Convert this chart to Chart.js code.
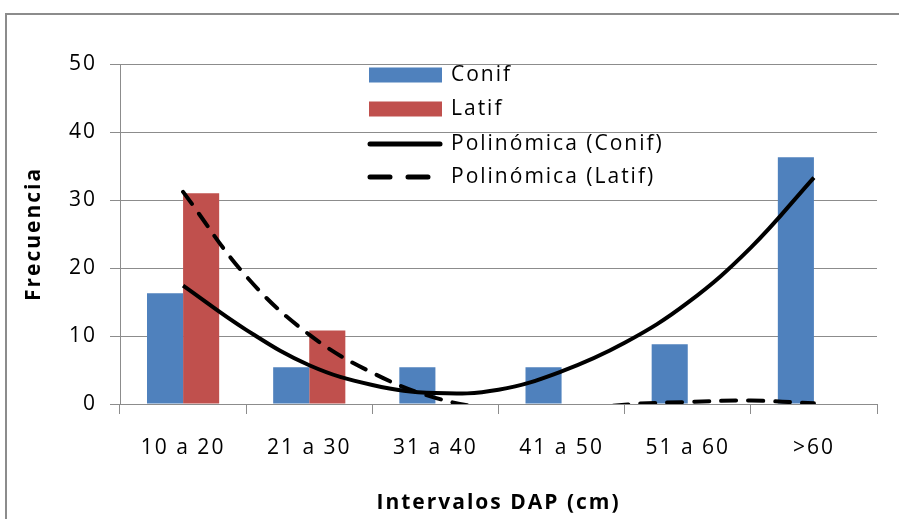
<!DOCTYPE html>
<html lang="es">
<head>
  <meta charset="UTF-8">
  <title>Frecuencia por intervalos DAP</title>
  <script src="https://cdn.jsdelivr.net/npm/chart.js"></script>
  <style>
    body { margin: 0; background: #fff; overflow: hidden; }
    .frame { position: absolute; left: 5px; top: 13px; width: 1000px; height: 1000px; border: 2px solid #8c8c8c; }
    #myCanvas { position: absolute; left: 0; top: 0; }
  </style>
</head>
<body>
  <div class="frame"></div>
  <canvas id="myCanvas" width="899" height="519"></canvas>
  <script>
    const categories = ["10 a 20", "21 a 30", "31 a 40", "41 a 50", "51 a 60", ">60"];
    const conif = [16.3, 5.4, 5.4, 5.4, 8.8, 36.3];
    const latif = [31.0, 10.8, 0, 0, 0, 0];

    // trend curves at every half category
    // (position is the category index, 0 = "10 a 20")
    const trendPos = [0, 0.5, 1, 1.5, 2, 2.5, 3, 3.5, 4, 4.5, 5];
    const conifTrend = [17.4, 10.9, 5.7, 2.8, 1.6, 2.1, 4.8, 9.0, 14.9, 23.0, 33.3];
    const latifTrend = [31.2, 18.8, 10.2, 4.6, 0.9, -0.8, -1.2, -0.1, 0.3, 0.5, 0.1];

    const yTicks = [0, 10, 20, 30, 40, 50];

    const FONT = "'Open Sans', sans-serif";
    const GRID = "#8c8c8c";

    // already in the scale's own format, so the half steps are not rounded
    function pts(xs, ys) {
      return xs.map((x, i) => ({ x: x, y: ys[i] }));
    }

    // the original text is wide, so space the letters a little
    const spacing = {
      id: "spacing",
      beforeDraw(chart) { chart.ctx.letterSpacing = "2px"; }
    };

    // legend drawn inside the plot, like the original
    const legendBox = {
      id: "legendBox",
      afterDraw(chart) {
        const ctx = chart.ctx;
        const rows = [75, 109, 144, 177];
        const ds = chart.data.datasets;
        ctx.save();
        ctx.font = "21px " + FONT;
        ctx.textBaseline = "middle";
        ds.forEach((d, i) => {
          const y = rows[i];
          if (d.type === "line") {
            ctx.strokeStyle = "#000";
            ctx.lineWidth = 5;
            ctx.lineCap = "round";
            ctx.setLineDash(d.borderDash ? [20, 18] : []);
            ctx.beginPath();
            ctx.moveTo(370, y);
            ctx.lineTo(440, y);
            ctx.stroke();
            ctx.setLineDash([]);
          } else {
            ctx.fillStyle = d.backgroundColor;
            ctx.fillRect(369, y - 7.5, 73, 15);
          }
          ctx.fillStyle = "#000";
          ctx.fillText(d.label, 451, y);
        });
        ctx.restore();
      }
    };

    new Chart(document.getElementById("myCanvas"), {
      type: "bar",
      data: {
        labels: categories,
        datasets: [
          { label: "Conif", data: conif, backgroundColor: "#4F81BD", order: 1 },
          { label: "Latif", data: latif, backgroundColor: "#C0504D", order: 1 },
          {
            type: "line", label: "Polinómica (Conif)", data: pts(trendPos, conifTrend),
            parsing: false, borderColor: "#000", borderWidth: 4, pointRadius: 0,
            tension: 0.4, clip: 0, order: 0
          },
          {
            type: "line", label: "Polinómica (Latif)", data: pts(trendPos, latifTrend),
            parsing: false, borderColor: "#000", borderWidth: 4, pointRadius: 0,
            borderDash: [15, 12], borderCapStyle: "round",
            tension: 0.4, clip: 0, order: 0
          }
        ]
      },
      options: {
        responsive: false,
        animation: false,
        devicePixelRatio: 1,
        layout: { padding: { top: 64, right: 22, left: 0, bottom: 0 } },
        plugins: {
          legend: { display: false },
          tooltip: { enabled: false }
        },
        datasets: {
          bar: { categoryPercentage: 0.572, barPercentage: 1 }
        },
        scales: {
          x: {
            grid: { drawOnChartArea: false, tickLength: 10, color: GRID, offset: true },
            border: { color: GRID },
            ticks: { color: "#000", font: { family: FONT, size: 21 }, padding: 21, maxRotation: 0 },
            title: {
              display: true, text: "Intervalos DAP (cm)", color: "#000",
              font: { family: FONT, size: 21, weight: "bold" }, padding: { top: 0, bottom: 3 }
            },
            afterFit(scale) { scale.height = 115; }
          },
          y: {
            min: 0, max: 50,
            afterBuildTicks(scale) { scale.ticks = yTicks.map(v => ({ value: v })); },
            grid: { color: GRID, tickLength: 10 },
            border: { color: GRID },
            ticks: { color: "#000", font: { family: FONT, size: 21 }, padding: 13 },
            title: {
              display: true, text: "Frecuencia", color: "#000",
              font: { family: FONT, size: 21, weight: "bold" }, padding: { top: 21, bottom: 0 }
            },
            afterFit(scale) { scale.width = 120; }
          }
        }
      },
      plugins: [spacing, legendBox]
    });
  </script>
</body>
</html>
